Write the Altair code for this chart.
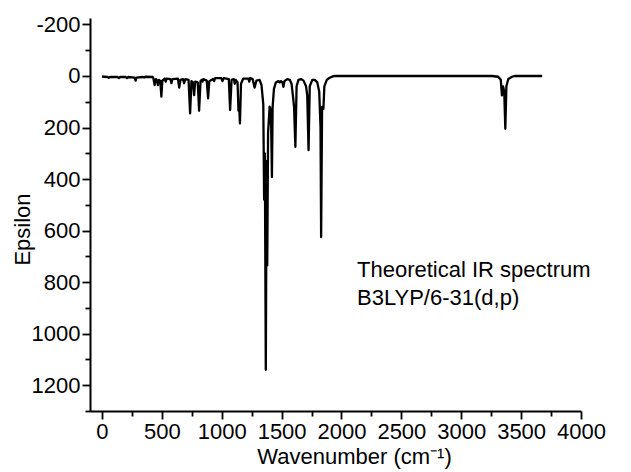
import altair as alt
import pandas as pd

# Spectrum vertices: wavenumber (cm-1) and epsilon
wavenumber = [0, 47, 57, 68, 131, 141, 152, 199, 209, 220, 272, 281, 288, 340, 351, 361, 424,
              430, 440, 451, 461, 467, 475, 487, 496, 504, 524, 532, 540, 571, 580, 588,
              634, 645, 655, 676, 686, 695, 723, 736, 747, 760, 769, 779, 800, 811, 823,
              833, 839, 846, 875, 886, 896, 928, 936, 945, 996, 1006, 1017, 1059, 1070, 1082,
              1101, 1109, 1117, 1132, 1140, 1146, 1152, 1161, 1180, 1222, 1230, 1238, 1258,
              1274, 1290, 1316, 1332, 1347, 1354, 1360, 1368, 1375, 1380, 1387, 1400, 1405,
              1413, 1419, 1425, 1436, 1452, 1473, 1484, 1494, 1507, 1515, 1524, 1547, 1568,
              1583, 1594, 1604, 1615, 1625, 1641, 1662, 1683, 1704, 1714, 1725, 1735, 1756,
              1777, 1798, 1814, 1825, 1830, 1838, 1849, 1857, 1877, 1898, 1924, 1945, 3256,
              3309, 3330, 3340, 3349, 3359, 3368, 3377, 3393, 3424, 3445, 3676]
epsilon = [2, 4, 7, 4, 4, 8, 4, 4, 8, 4, 6, 18, 6, 4, 6, 3, 4,
           10, 35, 12, 18, 35, 15, 20, 80, 18, 10, 22, 10, 12, 28, 12,
           10, 45, 15, 12, 28, 12, 15, 145, 20, 25, 74, 22, 25, 135, 20,
           15, 22, 12, 18, 87, 20, 12, 20, 8, 8, 20, 8, 12, 132, 15,
           12, 30, 15, 25, 135, 120, 184, 30, 10, 10, 22, 8, 12,
           45, 18, 15, 35, 110, 480, 300, 1140, 330, 735, 220, 119, 125,
           200, 392, 120, 50, 25, 20, 25, 20, 25, 42, 20, 12, 15,
           30, 75, 120, 275, 40, 15, 12, 18, 40, 75, 288, 40, 15,
           15, 25, 60, 200, 625, 120, 128, 40, 15, 8, 2, 0, 0,
           3, 15, 75, 40, 60, 205, 40, 12, 3, 0, 0]

x_ticks = list(range(0, 4001, 250))
y_ticks = list(range(-200, 1301, 100))
note_lines = ["Theoretical IR spectrum", "B3LYP/6-31(d,p)"]

df = pd.DataFrame({"wn": wavenumber, "eps": epsilon, "order": range(len(wavenumber))})

FONT = "Liberation Sans"
FS = 22

x_axis = alt.Axis(
    title="Wavenumber (cm⁻¹)",
    values=x_ticks,
    labelExpr="datum.value % 500 === 0 ? '' + datum.value : ''",
    tickSize={"condition": {"test": "datum.value % 500 === 0", "value": 8}, "value": 5},
    tickWidth=1.8,
    tickColor="black",
    domainColor="black",
    domainWidth=2,
    labelFont=FONT,
    labelFontSize=FS,
    labelColor="black",
    labelPadding=2,
    labelOverlap=False,
    labelFlush=False,
    labelBound=False,
    titleFont=FONT,
    titleFontSize=FS,
    titleFontWeight="normal",
    titleColor="black",
    titlePadding=4,
    titleX=264,
    titleAnchor="start",
    titleAlign="center",
    grid=False,
)

y_axis = alt.Axis(
    title="Epsilon",
    values=y_ticks,
    labelExpr="datum.value % 200 === 0 ? '' + datum.value : ''",
    tickSize={"condition": {"test": "datum.value % 200 === 0", "value": 8}, "value": 5},
    tickWidth=1.8,
    tickColor="black",
    domainColor="black",
    domainWidth=2,
    labelFont=FONT,
    labelFontSize=FS,
    labelColor="black",
    labelPadding=2,
    labelOverlap=False,
    labelFlush=False,
    labelBound=False,
    titleFont=FONT,
    titleFontSize=FS,
    titleFontWeight="normal",
    titleColor="black",
    titleX=-68,
    titleY=211,
    titleBaseline="middle",
    titleAlign="center",
    titleAngle=270,
    grid=False,
)

line = alt.Chart(df).mark_line(color="black", strokeWidth=2.3, strokeJoin="round").encode(
    x=alt.X("wn:Q", scale=alt.Scale(domain=[-100, 4000], nice=False, zero=False), axis=x_axis),
    y=alt.Y("eps:Q", scale=alt.Scale(domain=[-225, 1300], nice=False, zero=False, reverse=True), axis=y_axis),
    order="order:Q",
)

note = alt.Chart(pd.DataFrame({"t": [note_lines]})).mark_text(
    align="left", baseline="middle", font=FONT, fontSize=FS, color="black", lineHeight=28
).encode(
    x=alt.value(267),
    y=alt.value(252),
    text="t",
)

chart = alt.layer(line, note).properties(
    width=491,
    height=393,
    autosize=alt.AutoSizeParams(type="none"),
    padding={"left": 82, "top": 10, "right": 42, "bottom": 62},
).configure_view(stroke=None)

chart.save("out.html", embed_options={"renderer": "svg", "actions": False})
